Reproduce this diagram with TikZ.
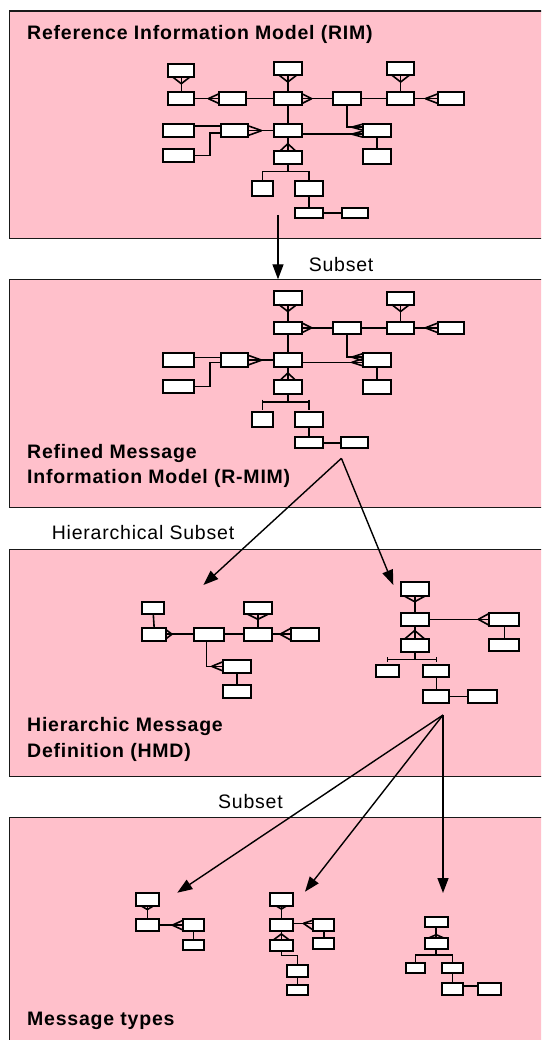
\documentclass[tikz,border=0pt]{standalone}
\usepackage{fontspec}
\setmainfont{Liberation Sans}[LetterSpace=4]
\usetikzlibrary{calc,arrows.meta}
\definecolor{panelpink}{RGB}{255,192,203}
\tikzset{
  panel/.style={draw=black!90, line width=1.4pt, fill=panelpink},
  entity/.style={draw=black, line width=2pt, fill=white, inner sep=0pt, outer sep=0pt, rectangle},
  conn/.style={line width=1.6pt, black},
  flow/.style={line width=1.4pt, black, -{Triangle[length=15pt,width=11pt]}},
  heading/.style={font=\bfseries\fontsize{19.5}{25}\selectfont, anchor=base west, inner sep=0pt},
  caption/.style={font=\fontsize{19.5}{25}\selectfont, anchor=base west, inner sep=0pt},
}
% entity box from its corners: name, x1, y1, x2, y2
\newcommand\entbox[5]{\node[entity, minimum width={(#4)-(#2)}, minimum height={(#5)-(#3)}] (#1) at ({((#2)+(#4))/2},{((#3)+(#5))/2}) {};}
% crow's foot at an anchor: apex offset, half-spread vector
\newcommand\crowat[3]{\draw[conn] ($(#1)+(#2)$) -- ($(#1)+(#3)$) ($(#1)+(#2)$) -- ($(#1)-(#3)$);}

\begin{document}
\begin{tikzpicture}[x=1pt,y=-1pt]
\useasboundingbox (0,0) rectangle (541,1040);
\clip (0,0) rectangle (541,1040);

% ---------- panels ----------
\draw[panel] (9.5,11) rectangle (560,238.3);
\draw[panel] (9.5,279.3) rectangle (560,507.3);
\draw[panel] (9.5,549.3) rectangle (560,776.7);
\draw[panel] (9.5,817.3) rectangle (560,1060);

% ---------- headings and captions ----------
\node[heading] (rimtitle) at (27,40) {Reference Information Model (RIM)};
\node[heading] (rmimA) at (27,458) {Refined Message};
\node[heading] (rmimB) at (27,483) {Information Model (R-MIM)};
\node[heading] (hmdA) at (27,731) {Hierarchic Message};
\node[heading] (hmdB) at (27,757) {Definition (HMD)};
\node[heading] (mtype) at (27,1025) {Message types};
\node[caption] (sub1) at (308.6,272) {Subset};
\node[caption] (hsub) at (51.7,539.3) {Hierarchical Subset};
\node[caption] (sub2) at (218,808.3) {Subset};

% ---------- derivation arrows ----------
\coordinate (rimOut) at (278,215);
\coordinate (rmimIn) at (278,279.3);
\coordinate (rmimOut) at (341.4,458.3);
\coordinate (hmdInL) at (203.4,585);
\coordinate (hmdInR) at (393.3,585);
\coordinate (hmdOut) at (443,715);
\coordinate (mtInL) at (177.3,892.7);
\coordinate (mtInM) at (305,891.7);
\coordinate (mtInR) at (443,893);
\draw[flow] (rimOut) -- (rmimIn);
\draw[flow] (rmimOut) -- (hmdInL);
\draw[flow] (rmimOut) -- (hmdInR);
\draw[flow] (hmdOut) -- (mtInL);
\draw[flow] (hmdOut) -- (mtInM);
\draw[flow] (hmdOut) -- (mtInR);

% ---------- RIM ----------
\entbox{A1}{168.3}{64}{194.3}{76.7}
\entbox{A2}{274}{62.3}{301.7}{75}
\entbox{A3}{387.3}{62.3}{414}{75}
\entbox{B1}{168.3}{92.3}{194.3}{105}
\entbox{B2}{219.3}{92.3}{245.7}{105}
\entbox{B3}{274}{92.3}{301.7}{105}
\entbox{B4}{332.7}{92.3}{360.7}{105}
\entbox{B5}{387.3}{92.3}{414}{105}
\entbox{B6}{438.3}{92.3}{464.3}{105}
\entbox{C1}{162.7}{124}{194.3}{137.3}
\entbox{C2}{220.7}{124}{247.7}{137.3}
\entbox{C3}{274}{124}{301.7}{137.3}
\entbox{C4}{362.7}{124}{390.7}{137.3}
\entbox{D1}{162.7}{149}{194.3}{162.3}
\entbox{D2}{274}{150.7}{301.7}{164}
\entbox{D3}{362.7}{149}{390.7}{164}
\entbox{E1}{251.7}{180.7}{273.3}{196}
\entbox{E2}{295}{180.7}{322.7}{196}
\entbox{F1}{295}{208.3}{322.7}{218.3}
\entbox{F2}{341.7}{208.3}{368.3}{218.3}

\draw[conn] (A1.south) -- (B1.north);
\crowat{A1.south}{0,7}{9,0}
\draw[conn] (A2.south) -- (B3.north);
\crowat{A2.south}{0,7}{9,0}
\draw[conn] (A3.south) -- (B5.north);
\crowat{A3.south}{0,7}{9,0}
\draw[conn] (B1.east) -- (B2.west);
\crowat{B2.west}{-11,0}{0,5}
\draw[conn] (B2.east) -- (B3.west);
\draw[conn] (B3.east) -- (B4.west);
\crowat{B3.east}{10,0}{0,5}
\draw[conn] (B4.east) -- (B5.west);
\draw[conn] (B5.east) -- (B6.west);
\crowat{B6.west}{-13,0}{0,5}
\draw[conn] (B3.south) -- (C3.north);
\draw[conn] ([yshift=4.4pt]C1.east) -- ([yshift=4.4pt]C2.west);
\draw[conn] (D1.east) -- ++(15.7,0) |- ([yshift=-2.6pt]C2.west);
\draw[conn] (C2.east) -- (C3.west);
\crowat{C2.east}{14,0}{0,5}
\coordinate (c4a) at ([yshift=3.5pt]C4.west);
\coordinate (c4b) at ([yshift=-3.5pt]C4.west);
\draw[conn] (B4.south) |- (c4a);
\draw[conn] (C3.east |- c4b) -- (c4b);
\crowat{c4a}{-11,0}{0,3}
\crowat{c4b}{-11,0}{0,3}
\draw[conn] (C4.south) -- (D3.north);
\draw[conn] (C3.south) -- (D2.north);
\crowat{D2.north}{0,-7}{7.5,0}
\draw[conn] (D2.south) -- ++(0,7.7) coordinate (d2fork);
\draw[conn] (E1.north) |- (d2fork) -| (E2.north);
\draw[conn] (E2.south) -- (F1.north);
\draw[conn] (F1.east) -- (F2.west);

% ---------- R-MIM ----------
\entbox{A2p}{274}{291.3}{301.7}{304.5}
\entbox{A3p}{387.3}{292}{414}{304.5}
\entbox{B3p}{274}{321.7}{301.7}{334}
\entbox{B4p}{332.7}{321.7}{360.7}{334}
\entbox{B5p}{387.3}{321.7}{414}{334}
\entbox{B6p}{438.3}{321.7}{464.3}{334}
\entbox{C1p}{162.7}{353.3}{194.3}{367}
\entbox{C2p}{220.7}{353.3}{247.7}{367}
\entbox{C3p}{274}{353.3}{301.7}{367}
\entbox{C4p}{362.7}{353.3}{390.7}{367}
\entbox{D1p}{162.7}{380}{194.3}{392.7}
\entbox{D2p}{274}{380}{301.7}{394}
\entbox{D3p}{362.7}{380}{390.7}{394}
\entbox{E1p}{251.7}{412}{273.3}{426.5}
\entbox{E2p}{295}{412}{322.7}{426.5}
\entbox{F1p}{295}{437.3}{322.7}{448.3}
\entbox{F2p}{340.7}{437.3}{368.3}{448.3}

\draw[conn] (A2p.south) -- (B3p.north);
\crowat{A2p.south}{0,7}{9,0}
\draw[conn] (A3p.south) -- (B5p.north);
\crowat{A3p.south}{0,7}{9,0}
\draw[conn] (B3p.east) -- (B4p.west);
\crowat{B3p.east}{10,0}{0,5}
\draw[conn] (B4p.east) -- (B5p.west);
\draw[conn] (B5p.east) -- (B6p.west);
\crowat{B6p.west}{-13,0}{0,5}
\draw[conn] (B3p.south) -- (C3p.north);
\draw[conn] ([yshift=2.8pt]C1p.east) -- ([yshift=2.8pt]C2p.west);
\draw[conn] (D1p.east) -- ++(15.7,0) |- ([yshift=-2.5pt]C2p.west);
\draw[conn] (C2p.east) -- (C3p.west);
\crowat{C2p.east}{14,0}{0,5}
\coordinate (c4pa) at ([yshift=3pt]C4p.west);
\coordinate (c4pb) at ([yshift=-2.2pt]C4p.west);
\draw[conn] (B4p.south) |- (c4pa);
\draw[conn] (C3p.east |- c4pb) -- (c4pb);
\crowat{c4pa}{-11,0}{0,3.5}
\crowat{c4pb}{-11,0}{0,3.5}
\draw[conn] (C4p.south) -- (D3p.north);
\draw[conn] (C3p.south) -- (D2p.north);
\crowat{D2p.north}{0,-7}{7.5,0}
\draw[conn] (D2p.south) -- ++(0,7.7) coordinate (d2pfork);
\coordinate (e1ptick) at (E1p.north |- d2pfork);
\coordinate (e2ptick) at (E2p.north |- d2pfork);
\draw[conn] (e1ptick) -- (e2ptick);
\draw[conn] ($(e1ptick)+(0,-2)$) -- ($(e1ptick)+(0,8)$);
\draw[conn] ($(e2ptick)+(0,-2)$) -- ($(e2ptick)+(0,8)$);
\draw[conn] (E2p.south) -- (F1p.north);
\draw[conn] (F1p.east) -- (F2p.west);

% ---------- HMD, left part ----------
\entbox{G1}{142.3}{601.7}{164.3}{614.3}
\entbox{G2}{142.3}{627.7}{166}{640.7}
\entbox{G3}{194.3}{627.7}{224}{640.7}
\entbox{G4}{244}{601.7}{271.7}{614.3}
\entbox{G5}{244}{627.7}{271.7}{640.7}
\entbox{G6}{291}{627.7}{319}{640.7}
\entbox{G7}{222.7}{660}{251}{672.7}
\entbox{G8}{222.7}{685}{251}{697.7}

\draw[conn] (G1.south) -- (G2.north);
\draw[conn] (G2.east) -- (G3.west);
\crowat{G2.east}{6,0}{0,4.5}
\draw[conn] (G3.east) -- (G5.west);
\draw[conn] (G4.south) -- (G5.north);
\crowat{G4.south}{0,5}{10,0}
\draw[conn] (G5.east) -- (G6.west);
\crowat{G6.west}{-11,0}{0,6}
\draw[conn] ([xshift=-2.5pt]G3.south) |- (G7.west);
\crowat{G7.west}{-11,0}{0,4.5}
\draw[conn] (G7.south) -- (G8.north);

% ---------- HMD, right part ----------
\entbox{H1}{400.7}{582.3}{428.7}{595.7}
\entbox{H2}{400.7}{612.7}{428.7}{626}
\entbox{H3}{400.7}{639}{428.7}{652.3}
\entbox{H4}{489.3}{612.7}{519.3}{626}
\entbox{H5}{489.3}{639}{519.3}{650.7}
\entbox{H6}{376}{665}{398.7}{676.7}
\entbox{H7}{423.3}{665}{449.3}{676.7}
\entbox{H8}{423.3}{690}{449.3}{703.3}
\entbox{H9}{468.3}{690}{496.7}{703.3}

\draw[conn] (H1.south) -- (H2.north);
\crowat{H1.south}{0,6}{11,0}
\draw[conn] (H2.east) -- (H4.west);
\crowat{H4.west}{-11,0}{0,6}
\draw[conn] (H2.south) -- (H3.north);
\crowat{H3.north}{0,-8.5}{10,0}
\draw[conn] (H4.south) -- (H5.north);
\draw[conn] (H3.south) -- ++(0,7) coordinate (h3fork);
\coordinate (h6tick) at (H6.north |- h3fork);
\coordinate (h7tick) at (H7.north |- h3fork);
\draw[conn] (h6tick) -- (h7tick);
\draw[conn] ($(h6tick)+(0,-2)$) -- ($(h6tick)+(0,3)$);
\draw[conn] ($(h7tick)+(0,-2)$) -- ($(h7tick)+(0,3)$);
\draw[conn] (H7.south) -- (H8.north);
\draw[conn] (H8.east) -- (H9.west);

% ---------- message types ----------
\entbox{K1}{136}{892.7}{158.7}{906}
\entbox{K2}{136}{919.3}{158.7}{931}
\entbox{K3}{183.3}{919.3}{204}{931}
\entbox{K4}{183.3}{940}{204}{950}
\draw[conn] (K1.south) -- (K2.north);
\crowat{K1.south}{0,3.5}{6,0}
\draw[conn] (K2.east) -- (K3.west);
\crowat{K3.west}{-11,0}{0,5}
\draw[conn] (K3.south) -- (K4.north);

\entbox{M1}{270}{892.7}{292.7}{906}
\entbox{M2}{270}{919.3}{292.7}{931}
\entbox{M3}{270}{940}{292.7}{951.3}
\entbox{M4}{313.3}{919.3}{334.3}{931}
\entbox{M5}{313.3}{938.3}{334.3}{949.3}
\entbox{M6}{287.3}{965}{307.7}{976.7}
\entbox{M7}{287.3}{985.3}{307.7}{995}
\draw[conn] (M1.south) -- (M2.north);
\crowat{M1.south}{0,3}{5,0}
\draw[conn] ([yshift=1.8pt]M2.east) -- ([yshift=1.8pt]M4.west);
\crowat{M4.west}{-10,-1.8}{0,5}
\draw[conn] (M2.south) -- (M3.north);
\crowat{M3.north}{0,-6}{8,0}
\draw[conn] (M4.south) -- (M5.north);
\draw[conn] (M3.south) -- ++(0,4) -| (M6.north);
\draw[conn] (M6.south) -- (M7.north);

\entbox{N1}{424.7}{917.3}{447.7}{927.3}
\entbox{N2}{424.7}{937.7}{447.7}{949.3}
\entbox{N3}{406}{962.7}{424.7}{972.7}
\entbox{N4}{442}{962.7}{462.7}{972.7}
\entbox{N5}{442}{983.3}{462.7}{995}
\entbox{N6}{477.7}{983.3}{500.7}{995}
\draw[conn] (N1.south) -- (N2.north);
\crowat{N2.north}{0,-3}{7,0}
\draw[conn] (N2.south) -- ++(0,5.7) coordinate (n2fork);
\draw[conn] (N3.north) |- (n2fork) -| (N4.north);
\draw[conn] (N4.south) -- (N5.north);
\draw[conn] ([yshift=3pt]N5.east) -- ([yshift=3pt]N6.west);
\end{tikzpicture}
\end{document}
